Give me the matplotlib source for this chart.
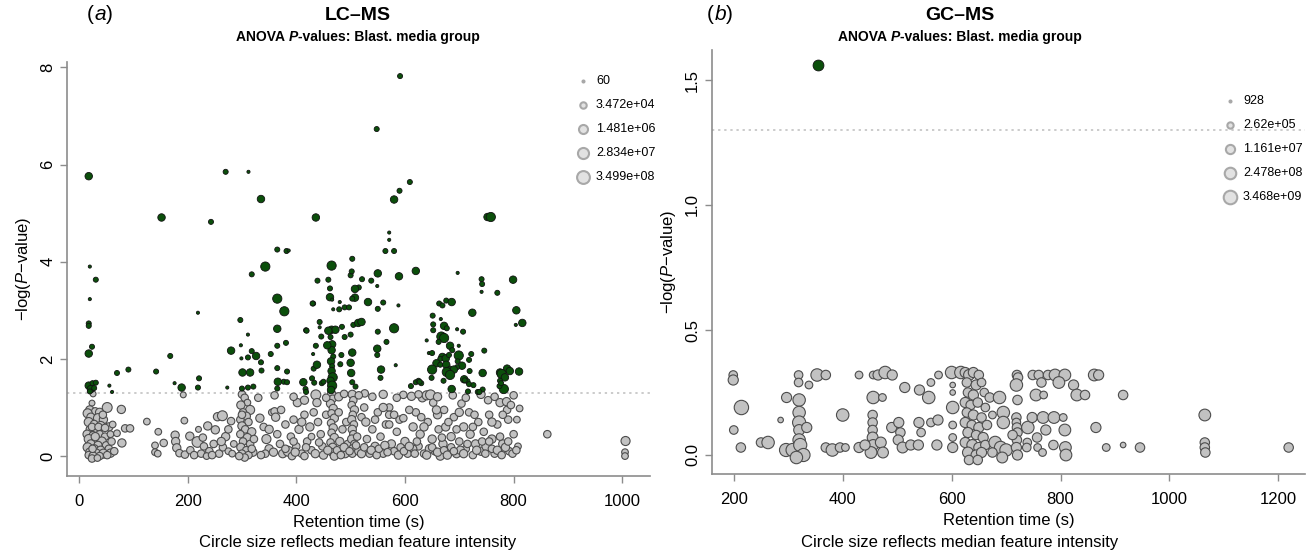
import numpy as np
import matplotlib
matplotlib.use("Agg")
from matplotlib import pyplot as plt

plt.rcParams['font.family'] = ['Liberation Sans', 'DejaVu Sans']
plt.rcParams['mathtext.fontset'] = 'custom'
plt.rcParams['mathtext.rm'] = 'Liberation Sans'
plt.rcParams['mathtext.it'] = 'Liberation Sans:italic'

# (retention time s, -log10 P, log10 median intensity)
# LC-MS, features below the 0.05 line
lc_ns = [
    (26, 1.28, 4.2), (24, 1.09, 4.2), (20, 0.95, 5.7), (30, 0.92, 5.2), (16, 0.88, 6.2), (38, 0.90, 5.7),
    (52, 1.00, 6.7), (22, 0.80, 5.7), (35, 0.78, 6.2), (45, 0.75, 5.7), (18, 0.70, 6.2), (28, 0.66, 5.2),
    (40, 0.62, 6.2), (55, 0.60, 5.7), (20, 0.55, 5.2), (32, 0.52, 6.7), (15, 0.45, 5.7), (26, 0.42, 5.7),
    (38, 0.45, 5.2), (48, 0.40, 5.2), (58, 0.45, 4.7), (18, 0.35, 6.2), (30, 0.32, 5.2), (42, 0.30, 6.2),
    (22, 0.25, 5.7), (35, 0.22, 5.7), (50, 0.22, 5.2), (16, 0.18, 6.2), (28, 0.15, 5.7), (40, 0.12, 5.7),
    (55, 0.15, 5.2), (20, 0.08, 5.7), (32, 0.06, 5.7), (45, 0.05, 6.2), (58, 0.06, 5.7), (18, 0.02, 5.2),
    (26, 0.00, 5.7), (38, 0.00, 5.2), (52, 0.02, 5.2), (24, -0.05, 5.2), (34, -0.04, 4.7), (60, 0.30, 5.2),
    (62, 0.65, 4.7), (65, 0.10, 5.2), (24, 0.60, 5.2), (36, 0.60, 5.2), (25, 0.15, 5.2), (44, 0.85, 5.2),
    (30, 0.40, 5.7), (48, 0.58, 5.2), (78, 0.96, 5.7), (79, 0.27, 5.7), (70, 0.47, 4.7), (85, 0.57, 5.2),
    (94, 0.57, 5.2), (125, 0.71, 4.7), (146, 0.50, 4.7), (140, 0.22, 4.7), (140, 0.08, 4.7), (156, 0.27, 5.2),
    (145, 0.05, 4.7), (177, 0.43, 5.7), (178, 0.30, 5.7), (180, 0.17, 5.7), (185, 0.06, 5.2), (195, 0.03, 5.2),
    (205, 0.12, 5.2), (194, 0.73, 4.7), (192, 1.26, 4.2), (204, 0.41, 5.7), (218, 0.29, 7.2), (220, 0.55, 4.2),
    (237, 0.62, 5.7), (251, 0.54, 5.7), (255, 0.81, 5.7), (264, 0.83, 6.7), (270, 0.40, 5.7), (230, 0.20, 5.2),
    (240, 0.10, 5.2), (248, 0.25, 5.2), (258, 0.05, 5.2), (265, 0.18, 5.2), (275, 0.10, 4.7), (212, 0.02, 5.2),
    (225, 0.05, 5.2), (235, 0.00, 4.7), (282, 0.05, 4.7), (285, 0.25, 4.7), (280, 0.72, 5.2),
    (300, 1.27, 5.2), (305, 1.20, 5.2), (310, 1.10, 4.7), (298, 1.05, 5.7), (315, 0.95, 6.2), (302, 0.90, 5.2),
    (308, 0.82, 5.7), (297, 0.75, 5.2), (312, 0.70, 5.2), (300, 0.62, 5.7), (306, 0.55, 5.2), (318, 0.50, 5.7),
    (297, 0.45, 5.2), (310, 0.38, 5.7), (302, 0.30, 5.2), (315, 0.25, 5.2), (298, 0.18, 5.7), (308, 0.12, 5.2),
    (320, 0.08, 5.7), (300, 0.05, 5.2), (312, 0.02, 5.2), (305, -0.03, 5.2), (295, 0.00, 5.2), (318, 0.15, 5.2),
    (322, 0.35, 5.2), (300, 0.85, 5.2),
    (333, 0.78, 5.7), (340, 0.60, 5.2), (345, 0.35, 6.2), (350, 0.15, 5.7), (355, 0.90, 4.7), (360, 0.92, 5.2),
    (362, 0.80, 5.7), (365, 0.45, 5.2), (370, 0.25, 5.2), (375, 0.05, 5.7), (380, 0.65, 5.2), (385, 0.10, 6.7),
    (390, 0.40, 5.2), (395, 0.75, 5.2), (402, 1.10, 5.7), (400, 0.20, 5.2), (405, 0.55, 5.7), (410, 0.05, 5.2),
    (415, 0.85, 5.2), (420, 0.30, 5.2), (425, 0.60, 5.7), (428, 0.12, 5.2), (436, 1.26, 6.7), (438, 1.10, 5.7),
    (432, 0.90, 5.2), (440, 0.70, 5.2), (445, 0.45, 5.2), (448, 0.20, 5.2), (450, 0.02, 5.7), (455, 0.85, 5.2),
    (343, 0.05, 5.2), (392, 0.00, 5.2), (415, 0.00, 5.2), (428, 0.40, 4.7),
    (465, 1.28, 5.7), (467, 1.18, 5.2), (463, 1.08, 5.7), (468, 0.98, 5.7), (465, 0.88, 5.2), (470, 0.78, 5.7),
    (464, 0.68, 5.2), (468, 0.58, 5.7), (465, 0.48, 5.2), (470, 0.38, 5.7), (463, 0.28, 5.2), (467, 0.18, 5.7),
    (465, 0.08, 5.2), (470, 0.00, 5.7), (475, 0.12, 5.2), (480, 0.30, 5.7), (485, 0.55, 5.2), (478, 0.90, 5.2),
    (490, 0.05, 5.7), (492, 0.70, 5.2), (495, 0.25, 5.2),
    (503, 1.27, 5.7), (505, 1.15, 5.2), (502, 1.05, 5.2), (507, 0.95, 5.7), (504, 0.85, 5.2), (502, 0.75, 5.7),
    (506, 0.65, 5.2), (503, 0.55, 5.7), (505, 0.45, 5.2), (502, 0.35, 5.7), (507, 0.25, 5.2), (504, 0.15, 5.7),
    (503, 0.05, 5.2), (512, 0.40, 5.2), (515, 0.10, 5.7), (520, 0.80, 5.2), (526, 1.29, 5.2), (525, 1.00, 5.2),
    (528, 0.70, 5.7), (530, 0.35, 5.2), (535, 0.05, 5.2), (540, 0.55, 5.2), (545, 0.20, 5.7), (550, 0.90, 5.2),
    (555, 0.40, 5.2), (560, 0.05, 5.2), (565, 0.65, 5.2), (571, 1.00, 5.2), (571, 0.85, 5.2), (571, 0.65, 5.2),
    (575, 0.25, 5.7), (580, 0.10, 5.2), (585, 0.50, 5.2), (590, 0.75, 5.2), (597, 1.26, 5.2), (597, 0.78, 5.2),
    (600, 0.30, 5.7), (605, 0.05, 5.2), (612, 1.23, 5.7),
    (615, 0.60, 5.7), (620, 0.90, 5.2), (625, 0.20, 5.2), (628, 0.45, 5.7), (632, 1.20, 5.7), (635, 0.05, 5.2),
    (640, 1.25, 6.2), (642, 0.70, 5.2), (647, 1.26, 6.7), (650, 0.35, 5.7), (652, 1.10, 5.2), (655, 0.10, 5.2),
    (660, 0.85, 5.7), (662, 0.55, 5.2), (665, 0.00, 5.7), (670, 0.25, 5.7), (672, 0.95, 5.2), (675, 0.60, 5.7),
    (680, 0.10, 5.2), (685, 0.40, 5.7), (690, 0.80, 5.2), (695, 0.05, 5.7), (700, 0.30, 5.2), (704, 1.08, 5.2),
    (708, 0.60, 5.7), (712, 0.15, 5.2), (718, 0.90, 5.2), (720, 0.45, 5.7), (725, 0.02, 5.2), (730, 0.25, 5.7),
    (735, 0.70, 5.2), (740, 0.10, 5.7), (745, 0.50, 5.2), (753, 1.15, 5.2), (750, 0.20, 6.2), (755, 0.85, 5.2),
    (760, 0.35, 5.7), (765, 0.05, 5.2), (770, 0.65, 5.2), (775, 1.10, 5.7), (780, 0.25, 5.7), (787, 1.12, 5.7),
    (788, 0.95, 5.2), (790, 0.75, 5.2), (792, 0.10, 5.2), (795, 1.05, 5.2), (800, 0.45, 5.2), (806, 0.75, 4.7),
    (811, 0.98, 4.7), (808, 0.20, 4.7), (862, 0.45, 5.2), (1006, 0.31, 6.2), (1005, 0.08, 4.7), (1005, 0.00, 4.7),
    (630, 0.80, 5.2), (658, 0.95, 5.7), (668, 0.38, 5.2), (695, 0.55, 5.2), (728, 0.85, 5.2), (742, 0.30, 5.2),
    (615, 0.15, 5.2), (645, 0.15, 5.7), (685, 0.18, 5.2), (760, 0.15, 5.2), (775, 0.40, 5.2), (702, 0.12, 5.7),
    # bottom band and points just under the line
    (335, 0.02, 5.2), (358, 0.08, 5.7), (380, 0.15, 5.2), (398, 0.08, 5.7), (418, 0.18, 5.2), (435, 0.05, 5.7),
    (442, 0.28, 5.2), (458, 0.12, 5.7), (482, 0.02, 5.2), (488, 0.18, 5.7), (498, 0.10, 5.2), (510, 0.22, 5.2),
    (520, 0.05, 5.7), (525, 0.18, 5.2), (538, 0.12, 5.7), (548, 0.02, 5.2), (552, 0.15, 5.2), (563, 0.22, 5.7),
    (568, 0.08, 5.2), (588, 0.02, 5.7), (592, 0.18, 5.2), (598, 0.10, 5.2), (608, 0.20, 5.7), (618, 0.05, 5.2),
    (622, 0.30, 5.2), (640, 0.02, 5.7), (650, 0.18, 5.2), (660, 0.08, 5.7), (672, 0.12, 5.2), (678, 0.02, 5.7),
    (690, 0.10, 5.2), (708, 0.05, 5.7), (715, 0.25, 5.2), (732, 0.12, 5.7), (748, 0.05, 5.2), (755, 0.30, 5.2),
    (770, 0.12, 5.7), (778, 0.02, 5.2), (785, 0.18, 5.7), (798, 0.05, 5.2), (805, 0.12, 5.2), (790, 0.30, 5.2),
    (455, 1.20, 5.2), (478, 1.22, 5.7), (488, 1.28, 5.2), (515, 1.25, 5.2), (540, 1.22, 5.2), (560, 1.27, 5.7),
    (585, 1.20, 5.2), (625, 1.27, 5.2), (660, 1.22, 5.7), (688, 1.25, 5.2), (712, 1.20, 5.2), (740, 1.27, 5.7),
    (765, 1.22, 5.2), (800, 1.25, 5.2), (330, 1.20, 5.2), (360, 1.25, 5.2), (395, 1.22, 5.2), (415, 1.15, 5.7),
    (545, 0.75, 5.2), (560, 1.00, 5.7), (580, 0.85, 5.2), (608, 0.95, 5.2), (635, 0.60, 5.7), (680, 0.70, 5.2),
    (700, 0.90, 5.7), (725, 0.60, 5.2), (760, 0.70, 5.7), (780, 0.85, 5.2), (350, 0.55, 5.7), (372, 0.95, 5.2),
    (410, 0.70, 5.7), (395, 0.30, 5.2), (228, 0.38, 5.2), (262, 0.30, 5.7), (245, 0.02, 5.2), (275, 0.55, 5.2),
]

# LC-MS, features above the 0.05 line
lc_sig = [
    (591, 7.82, 3.7), (548, 6.73, 3.7), (18, 5.76, 5.2), (270, 5.85, 3.7), (312, 5.85, 2.5), (609, 5.64, 3.7),
    (590, 5.46, 3.7), (580, 5.28, 5.2), (335, 5.29, 5.2), (152, 4.91, 5.2), (243, 4.82, 3.7), (436, 4.91, 5.2),
    (752, 4.92, 5.2), (758, 4.92, 6.3), (571, 4.60, 2.5), (571, 4.45, 2.5), (564, 4.22, 3.7), (580, 4.22, 3.7),
    (365, 4.25, 3.7), (382, 4.22, 3.7), (386, 4.23, 2.5), (20, 3.90, 2.5), (31, 3.63, 3.7), (20, 3.23, 2.5),
    (18, 2.73, 3.7), (18, 2.68, 3.7), (24, 2.25, 3.7), (18, 2.11, 5.2), (18, 1.45, 5.2), (22, 1.38, 5.2),
    (25, 1.50, 3.7), (20, 1.33, 3.7), (28, 1.40, 3.7), (31, 1.51, 3.7), (56, 1.45, 2.5), (61, 1.32, 2.5),
    (70, 1.71, 3.7), (91, 1.78, 3.7), (142, 1.74, 3.7), (168, 2.06, 3.7), (176, 1.50, 2.5), (189, 1.41, 5.2),
    (219, 2.95, 2.5), (221, 1.60, 3.7), (219, 1.41, 3.7), (273, 1.41, 2.5), (280, 2.17, 5.2), (297, 2.80, 3.7),
    (298, 2.28, 2.5), (299, 2.01, 2.5), (301, 1.72, 5.2), (300, 1.39, 3.7), (311, 2.50, 2.5), (311, 2.03, 3.7),
    (315, 1.72, 5.2), (311, 1.41, 3.7), (321, 1.43, 3.7), (318, 3.74, 3.7), (318, 2.16, 3.7), (326, 2.06, 5.2),
    (335, 1.93, 3.7), (336, 1.76, 3.7), (343, 3.90, 6.3), (353, 2.10, 3.7), (365, 3.24, 6.3), (378, 2.98, 6.3),
    (365, 2.62, 5.2), (365, 2.27, 3.7), (381, 2.33, 3.7), (365, 1.81, 3.7), (383, 1.74, 3.7), (366, 1.53, 5.2),
    (377, 1.53, 3.7), (383, 1.52, 3.7), (365, 1.39, 3.7), (413, 1.52, 5.2), (417, 1.38, 3.7), (418, 2.59, 3.7),
    (431, 3.14, 3.7), (431, 2.10, 2.5), (432, 1.80, 3.7), (438, 1.88, 5.2), (439, 3.61, 3.7), (443, 2.65, 2.5),
    (446, 2.46, 3.7), (447, 1.50, 3.7), (459, 3.63, 3.7), (465, 3.92, 6.3), (462, 3.27, 5.2), (462, 3.45, 3.7),
    (465, 2.60, 5.2), (463, 2.45, 3.7), (466, 2.30, 5.2), (465, 2.18, 5.2), (468, 2.05, 3.7), (464, 1.95, 5.2),
    (466, 1.85, 3.7), (465, 1.75, 5.2), (467, 1.62, 6.3), (463, 1.55, 5.2), (466, 1.45, 6.3), (464, 1.36, 5.2),
    (472, 2.60, 5.2), (484, 2.66, 3.7), (489, 2.45, 3.7), (505, 2.70, 3.7), (500, 2.50, 3.7), (514, 2.74, 5.2),
    (520, 2.76, 5.2), (503, 4.06, 3.7), (500, 3.72, 3.7), (502, 3.80, 3.7), (508, 3.26, 5.2), (515, 3.47, 3.7),
    (521, 3.64, 3.7), (538, 3.61, 3.7), (550, 3.76, 5.2), (549, 3.50, 2.5), (589, 3.70, 5.2), (620, 3.81, 5.2),
    (430, 3.14, 3.7), (466, 3.22, 2.5), (480, 3.17, 2.5), (468, 3.02, 2.5), (479, 3.02, 3.7), (489, 3.06, 3.7),
    (497, 3.06, 3.7), (503, 3.24, 3.7), (508, 3.44, 5.2), (532, 3.17, 5.2), (550, 3.03, 3.7), (560, 3.16, 3.7),
    (588, 3.10, 2.5), (580, 2.63, 6.3), (443, 2.76, 3.7), (419, 2.58, 3.7), (459, 2.58, 5.2), (550, 2.56, 3.7),
    (566, 2.35, 3.7), (549, 2.21, 5.2), (549, 2.08, 3.7), (503, 2.13, 5.2), (436, 2.27, 3.7), (457, 2.28, 5.2),
    (483, 2.08, 3.7), (481, 1.89, 3.7), (500, 1.92, 5.2), (501, 1.71, 5.2), (503, 1.52, 3.7), (509, 1.43, 3.7),
    (583, 1.87, 2.5), (556, 1.78, 5.2), (555, 1.61, 3.7), (620, 1.52, 3.7), (611, 1.44, 3.7), (429, 1.60, 3.7),
    (433, 1.51, 3.7), (450, 1.53, 3.7), (418, 1.32, 3.7),
    (697, 3.77, 2.5), (741, 3.64, 3.7), (742, 3.54, 3.7), (799, 3.63, 5.2), (741, 3.38, 2.5), (770, 3.36, 3.7),
    (663, 3.14, 3.7), (669, 3.10, 3.7), (676, 3.20, 3.7), (686, 3.17, 5.2), (724, 2.95, 5.2), (805, 3.00, 5.2),
    (651, 2.89, 3.7), (666, 2.82, 2.5), (652, 2.71, 3.7), (672, 2.68, 5.2), (677, 2.63, 3.7), (696, 2.61, 2.5),
    (707, 2.56, 3.7), (804, 2.70, 2.5), (816, 2.74, 5.2), (652, 2.59, 3.7), (667, 2.46, 6.3), (672, 2.43, 6.3),
    (662, 2.35, 3.7), (640, 2.38, 2.5), (683, 2.27, 5.2), (699, 2.27, 2.5), (687, 2.18, 3.7), (746, 2.17, 3.7),
    (644, 2.12, 2.5), (650, 2.12, 3.7), (669, 2.04, 5.2), (665, 2.00, 3.7), (675, 2.01, 5.2), (681, 2.08, 3.7),
    (699, 2.07, 6.3), (722, 2.10, 3.7), (658, 1.91, 5.2), (665, 1.88, 3.7), (676, 1.88, 5.2), (683, 1.80, 3.7),
    (697, 1.95, 3.7), (718, 1.98, 3.7), (705, 1.86, 5.2), (696, 1.83, 3.7), (690, 1.78, 5.2), (650, 1.78, 6.3),
    (677, 1.73, 6.3), (683, 1.67, 6.3), (719, 1.75, 3.7), (743, 1.71, 5.2), (775, 1.72, 5.2), (788, 1.80, 5.2),
    (793, 1.75, 5.2), (810, 1.74, 5.2), (778, 1.69, 6.3), (784, 1.62, 5.2), (649, 1.61, 3.7), (671, 1.55, 3.7),
    (709, 1.58, 5.2), (715, 1.54, 3.7), (775, 1.55, 3.7), (630, 1.50, 3.7), (625, 1.55, 3.7), (627, 1.53, 3.7),
    (718, 1.48, 3.7), (743, 1.37, 3.7), (734, 1.32, 3.7), (686, 1.38, 5.2), (782, 1.38, 6.3), (726, 1.46, 3.7),
    (710, 1.56, 3.7), (716, 1.33, 3.7), (737, 1.32, 3.7), (774, 1.44, 3.7), (777, 1.50, 3.7),
]

# GC-MS, features below the 0.05 line
gc_ns = [
    (199, 0.32, 6.7), (199, 0.30, 7.6), (214, 0.19, 10.0), (200, 0.10, 6.7), (213, 0.03, 7.2), (250, 0.05, 7.2),
    (263, 0.05, 8.9), (286, 0.14, 5.0), (297, 0.23, 7.6), (319, 0.32, 6.7), (319, 0.29, 6.7), (338, 0.28, 6.2),
    (320, 0.22, 8.9), (320, 0.17, 8.9), (320, 0.13, 9.3), (320, 0.10, 8.0), (320, 0.06, 8.9), (296, 0.02, 9.3),
    (308, 0.02, 9.3), (322, 0.04, 9.3), (328, 0.00, 9.3), (315, -0.01, 8.9), (334, 0.11, 7.6), (353, 0.32, 8.9),
    (369, 0.32, 7.2), (369, 0.03, 7.2), (381, 0.02, 8.9), (395, 0.03, 7.2), (405, 0.03, 6.2), (400, 0.16, 8.9),
    (430, 0.32, 6.2), (456, 0.32, 6.2), (465, 0.32, 7.6), (478, 0.33, 8.9), (491, 0.32, 7.6), (456, 0.23, 8.9),
    (473, 0.23, 6.2), (455, 0.16, 7.2), (455, 0.13, 7.2), (455, 0.10, 7.2), (455, 0.07, 8.0), (456, 0.04, 8.0),
    (452, 0.01, 8.5), (470, 0.05, 8.0), (474, 0.01, 8.0), (430, 0.03, 7.6), (441, 0.04, 7.6), (490, 0.11, 7.6),
    (503, 0.13, 7.6), (506, 0.09, 7.2), (502, 0.06, 7.6), (510, 0.03, 8.0), (525, 0.04, 7.6), (539, 0.04, 7.6),
    (514, 0.27, 7.6), (541, 0.26, 7.6), (558, 0.23, 8.9), (562, 0.29, 6.2), (576, 0.32, 6.2), (540, 0.13, 7.6),
    (544, 0.09, 6.7), (562, 0.13, 6.7), (575, 0.14, 7.6), (573, 0.04, 7.6), (600, 0.33, 8.9), (617, 0.33, 8.9),
    (602, 0.28, 5.0), (602, 0.25, 5.0), (602, 0.19, 8.9), (602, 0.12, 6.2), (602, 0.07, 6.2), (602, 0.03, 7.6),
    (625, 0.33, 7.6), (632, 0.32, 8.0), (640, 0.33, 7.6), (650, 0.32, 7.2), (628, 0.29, 7.2), (645, 0.28, 7.6),
    (655, 0.29, 6.7), (630, 0.25, 7.2), (640, 0.24, 7.6), (660, 0.25, 6.7), (625, 0.21, 7.6), (635, 0.20, 7.2),
    (648, 0.21, 7.2), (662, 0.19, 6.7), (628, 0.17, 7.2), (640, 0.16, 7.6), (655, 0.15, 7.2), (625, 0.13, 7.6),
    (637, 0.12, 7.2), (650, 0.11, 7.6), (665, 0.12, 7.2), (630, 0.09, 7.6), (645, 0.08, 7.2), (658, 0.07, 7.6),
    (625, 0.05, 7.6), (638, 0.04, 8.0), (650, 0.03, 7.6), (662, 0.04, 7.2), (630, 0.01, 8.0), (645, 0.00, 7.6),
    (655, 0.01, 7.6), (632, -0.02, 7.2), (648, -0.02, 7.2), (670, 0.23, 7.2), (688, 0.23, 8.9), (675, 0.16, 6.2),
    (695, 0.17, 8.9), (695, 0.13, 8.9), (680, 0.05, 8.9), (690, 0.03, 8.9), (700, 0.02, 8.9), (675, 0.01, 7.2),
    (693, -0.01, 8.0), (720, 0.32, 7.2), (722, 0.31, 7.2), (719, 0.28, 8.9), (721, 0.22, 7.2), (719, 0.15, 7.2),
    (719, 0.13, 6.7), (720, 0.11, 7.2), (721, 0.09, 7.2), (720, 0.06, 7.2), (719, 0.03, 7.6), (721, 0.00, 7.6),
    (712, 0.08, 7.2), (740, 0.11, 8.9), (739, 0.05, 6.7), (738, 0.03, 6.7), (749, 0.32, 7.2), (760, 0.32, 7.2),
    (777, 0.32, 7.2), (790, 0.32, 8.5), (808, 0.32, 8.5), (765, 0.29, 7.2), (797, 0.29, 8.5), (755, 0.24, 8.5),
    (769, 0.24, 6.2), (748, 0.15, 7.6), (768, 0.15, 8.5), (788, 0.15, 8.5), (805, 0.15, 6.2), (773, 0.10, 7.6),
    (808, 0.10, 8.5), (757, 0.07, 7.2), (787, 0.04, 7.2), (758, 0.03, 6.2), (767, 0.01, 6.2), (809, 0.03, 8.5),
    (810, 0.00, 8.5), (824, 0.28, 7.6), (830, 0.24, 8.5), (845, 0.24, 7.2), (862, 0.32, 8.5), (870, 0.32, 7.6),
    (915, 0.24, 7.2), (865, 0.11, 7.6), (884, 0.03, 6.2), (915, 0.04, 5.0), (946, 0.03, 7.2), (1065, 0.16, 8.5),
    (1065, 0.05, 7.2), (1065, 0.03, 7.2), (1066, 0.01, 7.2), (1219, 0.03, 7.2),
]

# GC-MS, features above the 0.05 line
gc_sig = [(355, 1.56, 8.0)]

lc_legend_vals = [60, 3.472e4, 1.481e6, 2.834e7, 3.499e8]
lc_legend_text = ['60', '3.472e+04', '1.481e+06', '2.834e+07', '3.499e+08']
gc_legend_vals = [928, 2.62e5, 1.161e7, 2.478e8, 3.468e9]
gc_legend_text = ['928', '2.62e+05', '1.161e+07', '2.478e+08', '3.468e+09']

W, H, DPI = 1307, 554, 100
cutoff = -np.log10(0.05)
green = '#0b4f0b'
grey = '#c2c2c2'


def marker_area(logint, lo, slope):
    # circle radius in pixels grows linearly with log intensity
    r = 1.0 + (np.asarray(logint) - lo) * slope
    return (2 * r * 72.0 / DPI) ** 2


def rich_text(fig, x, y, pieces, size):
    # draw a line built from differently styled pieces, centred on x (pixels)
    r = fig.canvas.get_renderer()
    objs = []
    for s, style, weight in pieces:
        t = fig.text(0, 0, s, fontsize=size, fontstyle=style, fontweight=weight, va='center', ha='left')
        objs.append(t)
    widths = [t.get_window_extent(r).width for t in objs]
    left = x - sum(widths) / 2
    for t, w in zip(objs, widths):
        t.set_position((left / W, 1 - y / H))
        left += w


def panel(fig, rect, xlim, ylim, xticks, yticks, ns, sig, lo, slope):
    ax = fig.add_axes([rect[0] / W, 1 - rect[3] / H, (rect[2] - rect[0]) / W, (rect[3] - rect[1]) / H])
    t, v, s = zip(*ns)
    ax.scatter(t, v, s=marker_area(s, lo, slope), c=grey, edgecolors='#4c4c4c', linewidths=0.8, zorder=2)
    t, v, s = zip(*sig)
    ax.scatter(t, v, s=marker_area(s, lo, slope), c=green, edgecolors='#111111', linewidths=0.6, zorder=3)
    ax.axhline(cutoff, color='#bdbdbd', lw=1.1, ls=(0, (1.5, 2.5)), zorder=1)
    ax.set_xlim(xlim)
    ax.set_ylim(ylim)
    ax.set_xticks(xticks)
    ax.set_yticks(yticks)
    for side in ['top', 'right']:
        ax.spines[side].set_visible(False)
    for side in ['left', 'bottom']:
        ax.spines[side].set_color('#8c8c8c')
        ax.spines[side].set_linewidth(1.2)
    ax.tick_params(colors='#8c8c8c', labelcolor='black', labelsize=12, length=5, width=1)
    ax.tick_params(axis='x', pad=8)
    plt.setp(ax.get_yticklabels(), rotation=90, va='center')
    ax.set_xlabel('Retention time (s)', fontsize=12, labelpad=4)
    ax.set_ylabel(r'$\mathregular{-log(}\mathit{P}\mathregular{-value)}$', fontsize=12, labelpad=5)
    return ax


def size_legend(fig, x, y0, dy, vals, labels, lo, slope):
    for i, (val, lab) in enumerate(zip(vals, labels)):
        y = y0 + i * dy
        fig.add_artist(plt.Line2D([x / W], [1 - y / H], marker='o', ls='none',
                                  markersize=np.sqrt(marker_area(np.log10(val), lo, slope)),
                                  markerfacecolor='#e2e2e2', markeredgecolor='#a8a8a8', markeredgewidth=1.5))
        fig.text((x + 13) / W, 1 - y / H, lab, fontsize=9, va='center', ha='left')


fig = plt.figure(figsize=(W / DPI, H / DPI), dpi=DPI)

ax1 = panel(fig, (67, 62, 650, 476), (-22, 1051), (-0.41, 8.11), range(0, 1001, 200), [0, 2, 4, 6, 8],
            lc_ns, lc_sig, 1.78, 0.80)
ax2 = panel(fig, (712, 50, 1305, 474), (160, 1249), (-0.076, 1.62), range(200, 1201, 200),
            [0.0, 0.5, 1.0, 1.5], gc_ns, gc_sig, 2.97, 0.88)
ax2.set_yticklabels(['0.0', '0.5', '1.0', '1.5'])
plt.setp(ax2.get_yticklabels(), rotation=90, va='center')

size_legend(fig, 583, 81, 24, lc_legend_vals, lc_legend_text, 1.78, 0.80)
size_legend(fig, 1230, 101, 24, gc_legend_vals, gc_legend_text, 2.97, 0.88)

for cx, tag, name in [(358, 'a', 'LC–MS'), (960, 'b', 'GC–MS')]:
    fig.text(cx / W, 1 - 15 / H, name, fontsize=14, fontweight='bold', ha='center', va='center')
    rich_text(fig, cx, 37, [('ANOVA ', 'normal', 'bold'), ('P', 'italic', 'bold'),
                            ('-values: Blast. media group', 'normal', 'bold')], 10)
    fig.text(cx / W, 1 - 542 / H, 'Circle size reflects median feature intensity', fontsize=12,
             ha='center', va='center')

rich_text(fig, 100, 15, [('(', 'normal', 'normal'), ('a', 'italic', 'normal'), (')', 'normal', 'normal')], 15)
rich_text(fig, 720, 15, [('(', 'normal', 'normal'), ('b', 'italic', 'normal'), (')', 'normal', 'normal')], 15)

fig.savefig('out.png', dpi=DPI)
